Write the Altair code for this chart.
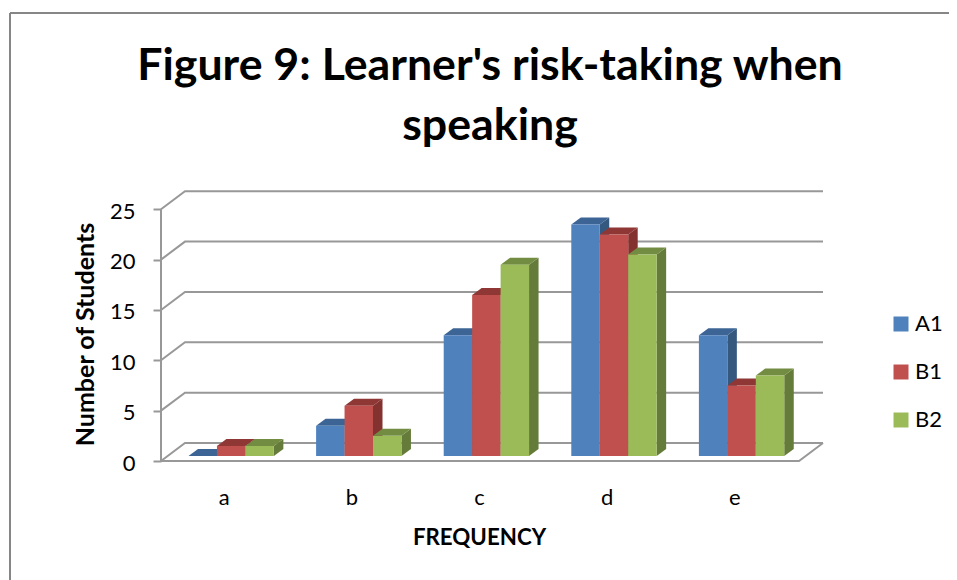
import altair as alt
import pandas as pd

# ---- values ----
categories = ["a", "b", "c", "d", "e"]
series_names = ["A1", "B1", "B2"]
a1_values = [0, 3, 12, 23, 12]
b1_values = [1, 5, 16, 22, 7]
b2_values = [1, 2, 19, 20, 8]
y_ticks = [0, 5, 10, 15, 20, 25]

values = {"A1": a1_values, "B1": b1_values, "B2": b2_values}
front = {"A1": "#4F81BD", "B1": "#C0504D", "B2": "#9BBB59"}
top = {"A1": "#3C6595", "B1": "#8E3735", "B2": "#728C42"}
side = {"A1": "#35587F", "B1": "#843230", "B2": "#657B3A"}

# ---- oblique projection, in data units (category slots, students) ----
PXX, PXY = 127.6, 10.07       # pixels per category slot / per student
W, H = 941, 572
X0, Y0 = 161 - 8, 461 - 8     # where the front origin sits on the canvas
x_dom = [-X0 / PXX, (W - X0) / PXX]
y_dom = [-(H - Y0) / PXY, Y0 / PXY]

wall_dx, wall_dy = 24 / PXX, 18 / PXY
bar_dx, bar_dy = 9.5 / PXX, 7 / PXY
bar_w, bar_start, base = 28.45 / PXX, 27.5 / PXX, 5 / PXY

front_rows, top_rows, side_rows = [], [], []
for s_i, s in enumerate(series_names):
    for c_i, c in enumerate(categories):
        v = values[s][c_i]
        l = c_i + bar_start + s_i * bar_w
        r = l + bar_w
        t = v + base
        key = f"{c}-{s}"
        front_rows.append(dict(series=s, l=l, r=r, b=base, t=t))
        top_rows += [dict(series=s, key=key, y=t, l=l, r=r),
                     dict(series=s, key=key, y=t + bar_dy, l=l + bar_dx, r=r + bar_dx)]
        side_rows += [dict(series=s, key=key, x=r, lo=base, hi=t),
                      dict(series=s, key=key, x=r + bar_dx, lo=base + bar_dy, hi=t + bar_dy)]
front_df, top_df, side_df = map(pd.DataFrame, (front_rows, top_rows, side_rows))

n = len(categories)
line_rows = []
for v in y_ticks:
    line_rows += [dict(key=f"s{v}", o=0, x=0, y=v),
                  dict(key=f"s{v}", o=1, x=wall_dx, y=v + wall_dy),
                  dict(key=f"s{v}", o=2, x=n + wall_dx, y=v + wall_dy)]
line_rows += [dict(key="axis", o=0, x=0, y=0), dict(key="axis", o=1, x=0, y=y_ticks[-1]),
              dict(key="floor", o=0, x=0, y=0), dict(key="floor", o=1, x=n, y=0),
              dict(key="floor", o=2, x=n + wall_dx, y=wall_dy)]
line_df = pd.DataFrame(line_rows)

FONT = "Lato"
GREY = "#989898"
xs = alt.Scale(domain=x_dom, nice=False, zero=False)
ys = alt.Scale(domain=y_dom, nice=False, zero=False)

x_axis = alt.Axis(
    values=[i + 0.5 for i in range(n)],
    labelExpr="['a','b','c','d','e'][floor(datum.value)]",
    offset=-(H - Y0), domain=False, ticks=False, grid=False,
    labelFont=FONT, labelFontSize=22, labelColor="#000", labelPadding=26, labelOffset=-1,
    title="FREQUENCY", titleFont=FONT, titleFontSize=22.3, titleFontWeight="bold",
    titleColor="#000", titleX=479 - 8, titleY=76, titleAnchor="middle", titleAlign="center",
    titleBaseline="middle",
)
y_axis = alt.Axis(
    values=y_ticks, offset=-X0, domain=False, grid=False,
    tickColor=GREY, tickWidth=2, tickSize=8,
    labelFont=FONT, labelFontSize=22, labelColor="#000", labelPadding=18, labelOffset=2,
    title="Number of Students", titleFont=FONT, titleFontSize=25, titleFontWeight="bold",
    titleColor="#000",
    titleX=-76, titleY=334 - 8, titleAlign="center", titleBaseline="middle",
)

frame_top = alt.Chart(pd.DataFrame({"k": [0]})).mark_rule(color="#868686", strokeWidth=2).encode(
    x=alt.value(2), x2=alt.value(W), y=alt.value(5))
frame_left = alt.Chart(pd.DataFrame({"k": [0]})).mark_rule(color="#868686", strokeWidth=2).encode(
    x=alt.value(2), y=alt.value(5), y2=alt.value(H))

walls = alt.Chart(line_df).mark_line(color=GREY, strokeWidth=2).encode(
    x=alt.X("x:Q", scale=xs, axis=x_axis),
    y=alt.Y("y:Q", scale=ys, axis=y_axis),
    detail="key:N", order="o:Q")

color_enc = alt.Color(
    "series:N",
    scale=alt.Scale(domain=series_names, range=[front[s] for s in series_names]),
    legend=alt.Legend(
        title=None, orient="none", legendX=882, legendY=305, padding=0,
        symbolType="square", symbolSize=225, symbolStrokeWidth=0,
        labelFont=FONT, labelFontSize=22, labelColor="#000", labelOffset=3,
        rowPadding=26,
    ),
)

layers = [frame_top, frame_left, walls]
for s in series_names:
    sd = side_df[side_df.series == s]
    td = top_df[top_df.series == s]
    fd = front_df[front_df.series == s]
    layers.append(alt.Chart(sd).mark_area(color=side[s], orient="vertical").encode(
        x=alt.X("x:Q", scale=xs, axis=x_axis),
        y=alt.Y("hi:Q", scale=ys, axis=y_axis, stack=None),
        y2="lo:Q", detail="key:N"))
    layers.append(alt.Chart(td).mark_area(color=top[s], orient="horizontal").encode(
        y=alt.Y("y:Q", scale=ys, axis=y_axis),
        x=alt.X("r:Q", scale=xs, axis=x_axis, stack=None),
        x2="l:Q", detail="key:N"))
    layers.append(alt.Chart(fd).mark_rect().encode(
        x=alt.X("l:Q", scale=xs, axis=x_axis),
        x2="r:Q",
        y=alt.Y("b:Q", scale=ys, axis=y_axis),
        y2="t:Q",
        color=color_enc))

title = alt.Chart(pd.DataFrame({"t": ["Figure 9: Learner's risk-taking when\nspeaking"]})).mark_text(
    font=FONT, fontSize=44.7, fontWeight="bold", color="#000", lineBreak="\n", lineHeight=60,
    align="center", baseline="alphabetic",
).encode(x=alt.value(490 - 8), y=alt.value(80 - 8), text="t:N")
layers.append(title)

chart = alt.layer(*layers).properties(
    width=W, height=H, padding=0,
    autosize=alt.AutoSizeParams(type="none"),
).configure_view(stroke=None)

chart.save("out.html", embed_options={"renderer": "svg", "actions": False})
